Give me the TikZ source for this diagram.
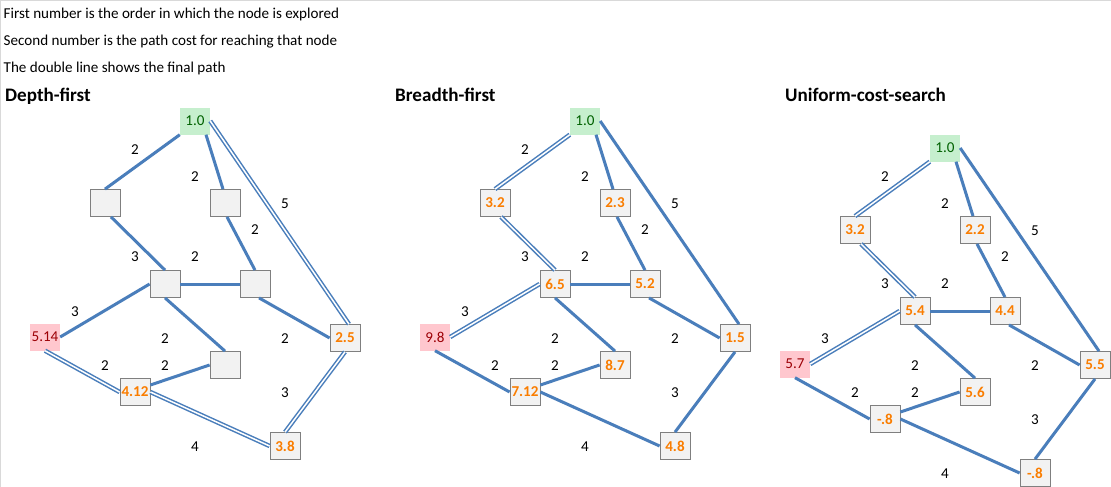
\documentclass[tikz,border=0pt]{standalone}
\usepackage{fontspec}
\setmainfont{Carlito}
\usetikzlibrary{calc}
\definecolor{edgeblue}{HTML}{4A7EBB}
\definecolor{calcfill}{HTML}{F2F2F2}
\definecolor{calcborder}{HTML}{7F7F7F}
\definecolor{calctext}{HTML}{FA7D00}
\definecolor{goodfill}{HTML}{C6EFCE}
\definecolor{goodtext}{HTML}{006100}
\definecolor{badfill}{HTML}{FFC7CE}
\definecolor{badtext}{HTML}{9C0006}
\definecolor{gridgray}{HTML}{D9D9D9}
\tikzset{
  cell/.style={minimum width=30pt, minimum height=27pt, inner sep=0pt, font=\fontsize{15.1}{17}\selectfont},
  calcbox/.style={cell, draw=calcborder, fill=calcfill, text=calctext, font=\fontsize{15.1}{17}\selectfont\bfseries, line width=0.8pt},
  goodbox/.style={cell, fill=goodfill, text=goodtext},
  badbox/.style={cell, fill=badfill, text=badtext},
  lbl/.style={font=\fontsize{15.1}{17}\selectfont, inner sep=0pt, text=black},
  headtxt/.style={font=\fontsize{15.1}{17}\selectfont, inner sep=0pt, anchor=base west, text=black},
  titletxt/.style={font=\fontsize{19.1}{22}\selectfont\bfseries, inner sep=0pt, anchor=base west, text=black},
  sgl/.style={draw=edgeblue, line width=3pt},
  dbl/.style={draw=edgeblue, line width=1.5pt, double=white, double distance=1.5pt},
}
\newcommand\drawpanel[9]{%
  \node[goodbox] (s) at (195,121) {1.0};
  \node[calcbox] (l) at (105,203) {#1};
  \node[calcbox] (m) at (225,203) {#2};
  \node[calcbox] (c) at (165,284) {#3};
  \node[calcbox] (d) at (255,284) {#4};
  \node[calcbox] (r) at (345,338) {#5};
  \node[badbox]  (p) at (45,337) {#6};
  \node[calcbox] (e) at (225,365) {#7};
  \node[calcbox] (f) at (135,392) {#8};
  \node[calcbox] (g) at (285,446) {#9};
  \node[lbl] (lb1) at (135,150) {2};
  \node[lbl] (lb2) at (195,177) {2};
  \node[lbl] (lb3) at (285,204) {5};
  \node[lbl] (lb4) at (255,230) {2};
  \node[lbl] (lb5) at (135,257) {3};
  \node[lbl] (lb6) at (195,257) {2};
  \node[lbl] (lb7) at (75,312) {3};
  \node[lbl] (lb8) at (165,339) {2};
  \node[lbl] (lb9) at (285,339) {2};
  \node[lbl] (lb10) at (105,366) {2};
  \node[lbl] (lb11) at (165,366) {2};
  \node[lbl] (lb12) at (285,393) {3};
  \node[lbl] (lb13) at (195,447) {4};
  \draw[E1] (s.south west) -- (l.north);
  \draw[E2] ([xshift=11pt]s.south) -- ([xshift=-2pt]m.north);
  \draw[E3] (s.east) -- ([xshift=4pt]r.north);
  \draw[E4] ([xshift=6pt]l.south) -- (c.north);
  \draw[E5] ([xshift=2pt]m.south) -- (d.north);
  \draw[E6] (c.east) -- (d.west);
  \draw[E7] (c.west) -- (p.east);
  \draw[E8] (c.south) -- (e.north);
  \draw[E9] ([xshift=4pt]d.south) -- (r.west);
  \draw[E10] (p.south) -- (f.west);
  \draw[E11] ([yshift=7pt]f.east) -- (e.west);
  \draw[E12] (f.east) -- (g.west);
  \draw[E13] (r.south) -- (g.north);
}
\begin{document}
\begin{tikzpicture}[x=1pt,y=-1pt]
\useasboundingbox (0,0) rectangle (1111,487);
\fill[white] (0,0) rectangle (1111,487);
\draw[gridgray, line width=1pt] (0.5,487) -- (0.5,0.5) -- (1111,0.5);
\node[headtxt] (h1) at (3.5,19) {First number is the order in which the node is explored};
\node[headtxt] (h2) at (3.5,46) {Second number is the path cost for reaching that node};
\node[headtxt] (h3) at (3.5,73) {The double line shows the final path};
\node[titletxt] (t1) at (5,101) {Depth-first};
\node[titletxt] (t2) at (395,101) {Breadth-first};
\node[titletxt] (t3) at (785,101) {Uniform-cost-search};
\begin{scope}[name prefix=A-,
  E1/.style=sgl, E2/.style=sgl, E3/.style=dbl, E4/.style=sgl, E5/.style=sgl,
  E6/.style=sgl, E7/.style=sgl, E8/.style=sgl, E9/.style=sgl, E10/.style=dbl,
  E11/.style=sgl, E12/.style=dbl, E13/.style=dbl]
  \drawpanel{}{}{}{}{2.5}{5.14}{}{4.12}{3.8}
\end{scope}
\begin{scope}[shift={(390,0)}, name prefix=B-,
  E1/.style=dbl, E2/.style=sgl, E3/.style=sgl, E4/.style=dbl, E5/.style=sgl,
  E6/.style=sgl, E7/.style=dbl, E8/.style=sgl, E9/.style=sgl, E10/.style=sgl,
  E11/.style=sgl, E12/.style=sgl, E13/.style=sgl]
  \drawpanel{3.2}{2.3}{6.5}{5.2}{1.5}{9.8}{8.7}{7.12}{4.8}
\end{scope}
\begin{scope}[shift={(750,27)}, name prefix=C-,
  E1/.style=dbl, E2/.style=sgl, E3/.style=sgl, E4/.style=dbl, E5/.style=sgl,
  E6/.style=sgl, E7/.style=dbl, E8/.style=sgl, E9/.style=sgl, E10/.style=sgl,
  E11/.style=sgl, E12/.style=sgl, E13/.style=sgl]
  \drawpanel{3.2}{2.2}{5.4}{4.4}{5.5}{5.7}{5.6}{-.8}{-.8}
\end{scope}
\end{tikzpicture}
\end{document}
